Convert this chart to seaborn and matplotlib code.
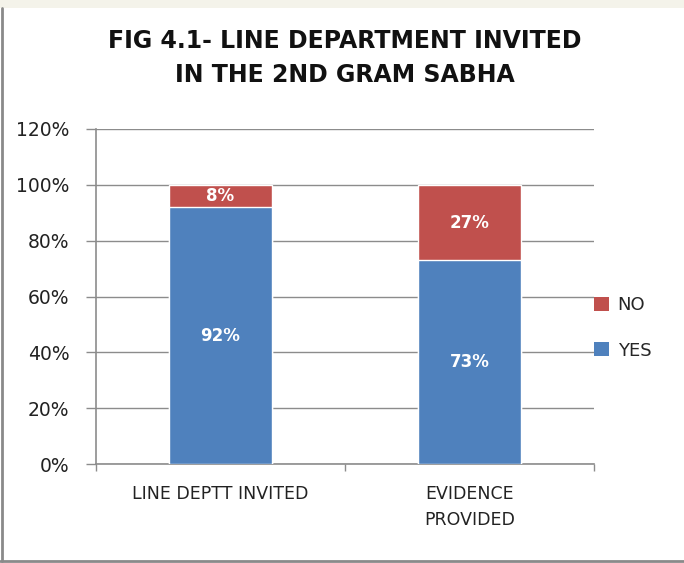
import matplotlib
matplotlib.use("Agg")
import matplotlib.pyplot as plt
import seaborn as sns
import pandas as pd
from matplotlib.patches import Rectangle, Patch
from matplotlib.lines import Line2D

categories = ["LINE DEPTT INVITED", "EVIDENCE\nPROVIDED"]
yes_vals = [92, 73]
no_vals = [8, 27]
yticks = [0, 20, 40, 60, 80, 100, 120]
ytick_labels = ["0%", "20%", "40%", "60%", "80%", "100%", "120%"]
title_lines = ["FIG 4.1- LINE DEPARTMENT INVITED", "IN THE 2ND GRAM SABHA"]

BLUE = "#4F81BD"
RED = "#C0504D"
GRID = "#8c8c8c"

sns.set_theme(style="white")
plt.rcParams["font.family"] = ["DejaVu Sans"]

fig = plt.figure(figsize=(6.84, 5.63), dpi=100)
fig.patch.set_facecolor("white")
# decorative frame of the screenshot
fig.add_artist(Rectangle((0, 1 - 8 / 563), 1, 8 / 563, transform=fig.transFigure,
                         facecolor="#f4f3ea", edgecolor="none"))
fig.add_artist(Line2D([2 / 684, 2 / 684], [2 / 563, 1 - 8 / 563], transform=fig.transFigure,
                      color="#8a8a8a", lw=2))
fig.add_artist(Line2D([0, 1], [2.5 / 563, 2.5 / 563], transform=fig.transFigure,
                      color="#8a8a8a", lw=2))

ax = fig.add_axes([96 / 684, 1 - 464 / 563, 498 / 684, 335 / 563])

df = pd.DataFrame({"cat": categories, "yes": yes_vals,
                   "total": [y + n for y, n in zip(yes_vals, no_vals)]})
sns.barplot(data=df, x="cat", y="total", color=RED, width=0.41, saturation=1, ax=ax, zorder=3)
sns.barplot(data=df, x="cat", y="yes", color=BLUE, width=0.41, saturation=1, ax=ax, zorder=3)

for i, (y, n) in enumerate(zip(yes_vals, no_vals)):
    ax.text(i, y / 2, f"{y}%", ha="center", va="center", color="white",
            fontsize=12, fontweight="bold", zorder=5)
    ax.text(i, y + n / 2, f"{n}%", ha="center", va="center", color="white",
            fontsize=12, fontweight="bold", zorder=5)

ax.set_ylim(0, 120)
ax.set_xlim(-0.5, 1.5)
ax.set_yticks(yticks)
ax.set_yticklabels(ytick_labels, fontsize=13.5, color="#222222")
ax.set_xticks([0, 1])
ax.set_xticklabels(categories, fontsize=12.5, color="#222222", linespacing=1.6)
ax.set_xlabel("")
ax.set_ylabel("")
ax.yaxis.grid(True, color=GRID, lw=1, zorder=0)
ax.set_axisbelow(True)
for s in ["top", "right"]:
    ax.spines[s].set_visible(False)
for s in ["left", "bottom"]:
    ax.spines[s].set_color(GRID)
    ax.spines[s].set_linewidth(1.2)
ax.tick_params(axis="y", which="major", length=7, width=1, color=GRID, pad=12, left=True)
ax.tick_params(axis="x", which="major", length=0, pad=15)
# x boundary ticks between categories
ax.set_xticks([-0.5, 0.5, 1.5], minor=True)
ax.tick_params(axis="x", which="minor", length=5, width=1, color=GRID, bottom=True)

handles = [Patch(facecolor=RED, edgecolor="none", label="NO"),
           Patch(facecolor=BLUE, edgecolor="none", label="YES")]
fig.legend(handles=handles, loc="center left", bbox_to_anchor=(578 / 684, 1 - 328 / 563),
           frameon=False, fontsize=13, handlelength=0.8, handleheight=0.8,
           handletextpad=0.5, labelspacing=1.5)

fig.text(345 / 684, 1 - 41 / 563, title_lines[0], ha="center", va="center",
         fontsize=17, fontweight="bold", color="#111111")
fig.text(345 / 684, 1 - 75 / 563, title_lines[1], ha="center", va="center",
         fontsize=17, fontweight="bold", color="#111111")

fig.savefig("out.png", dpi=100, facecolor=fig.get_facecolor())
